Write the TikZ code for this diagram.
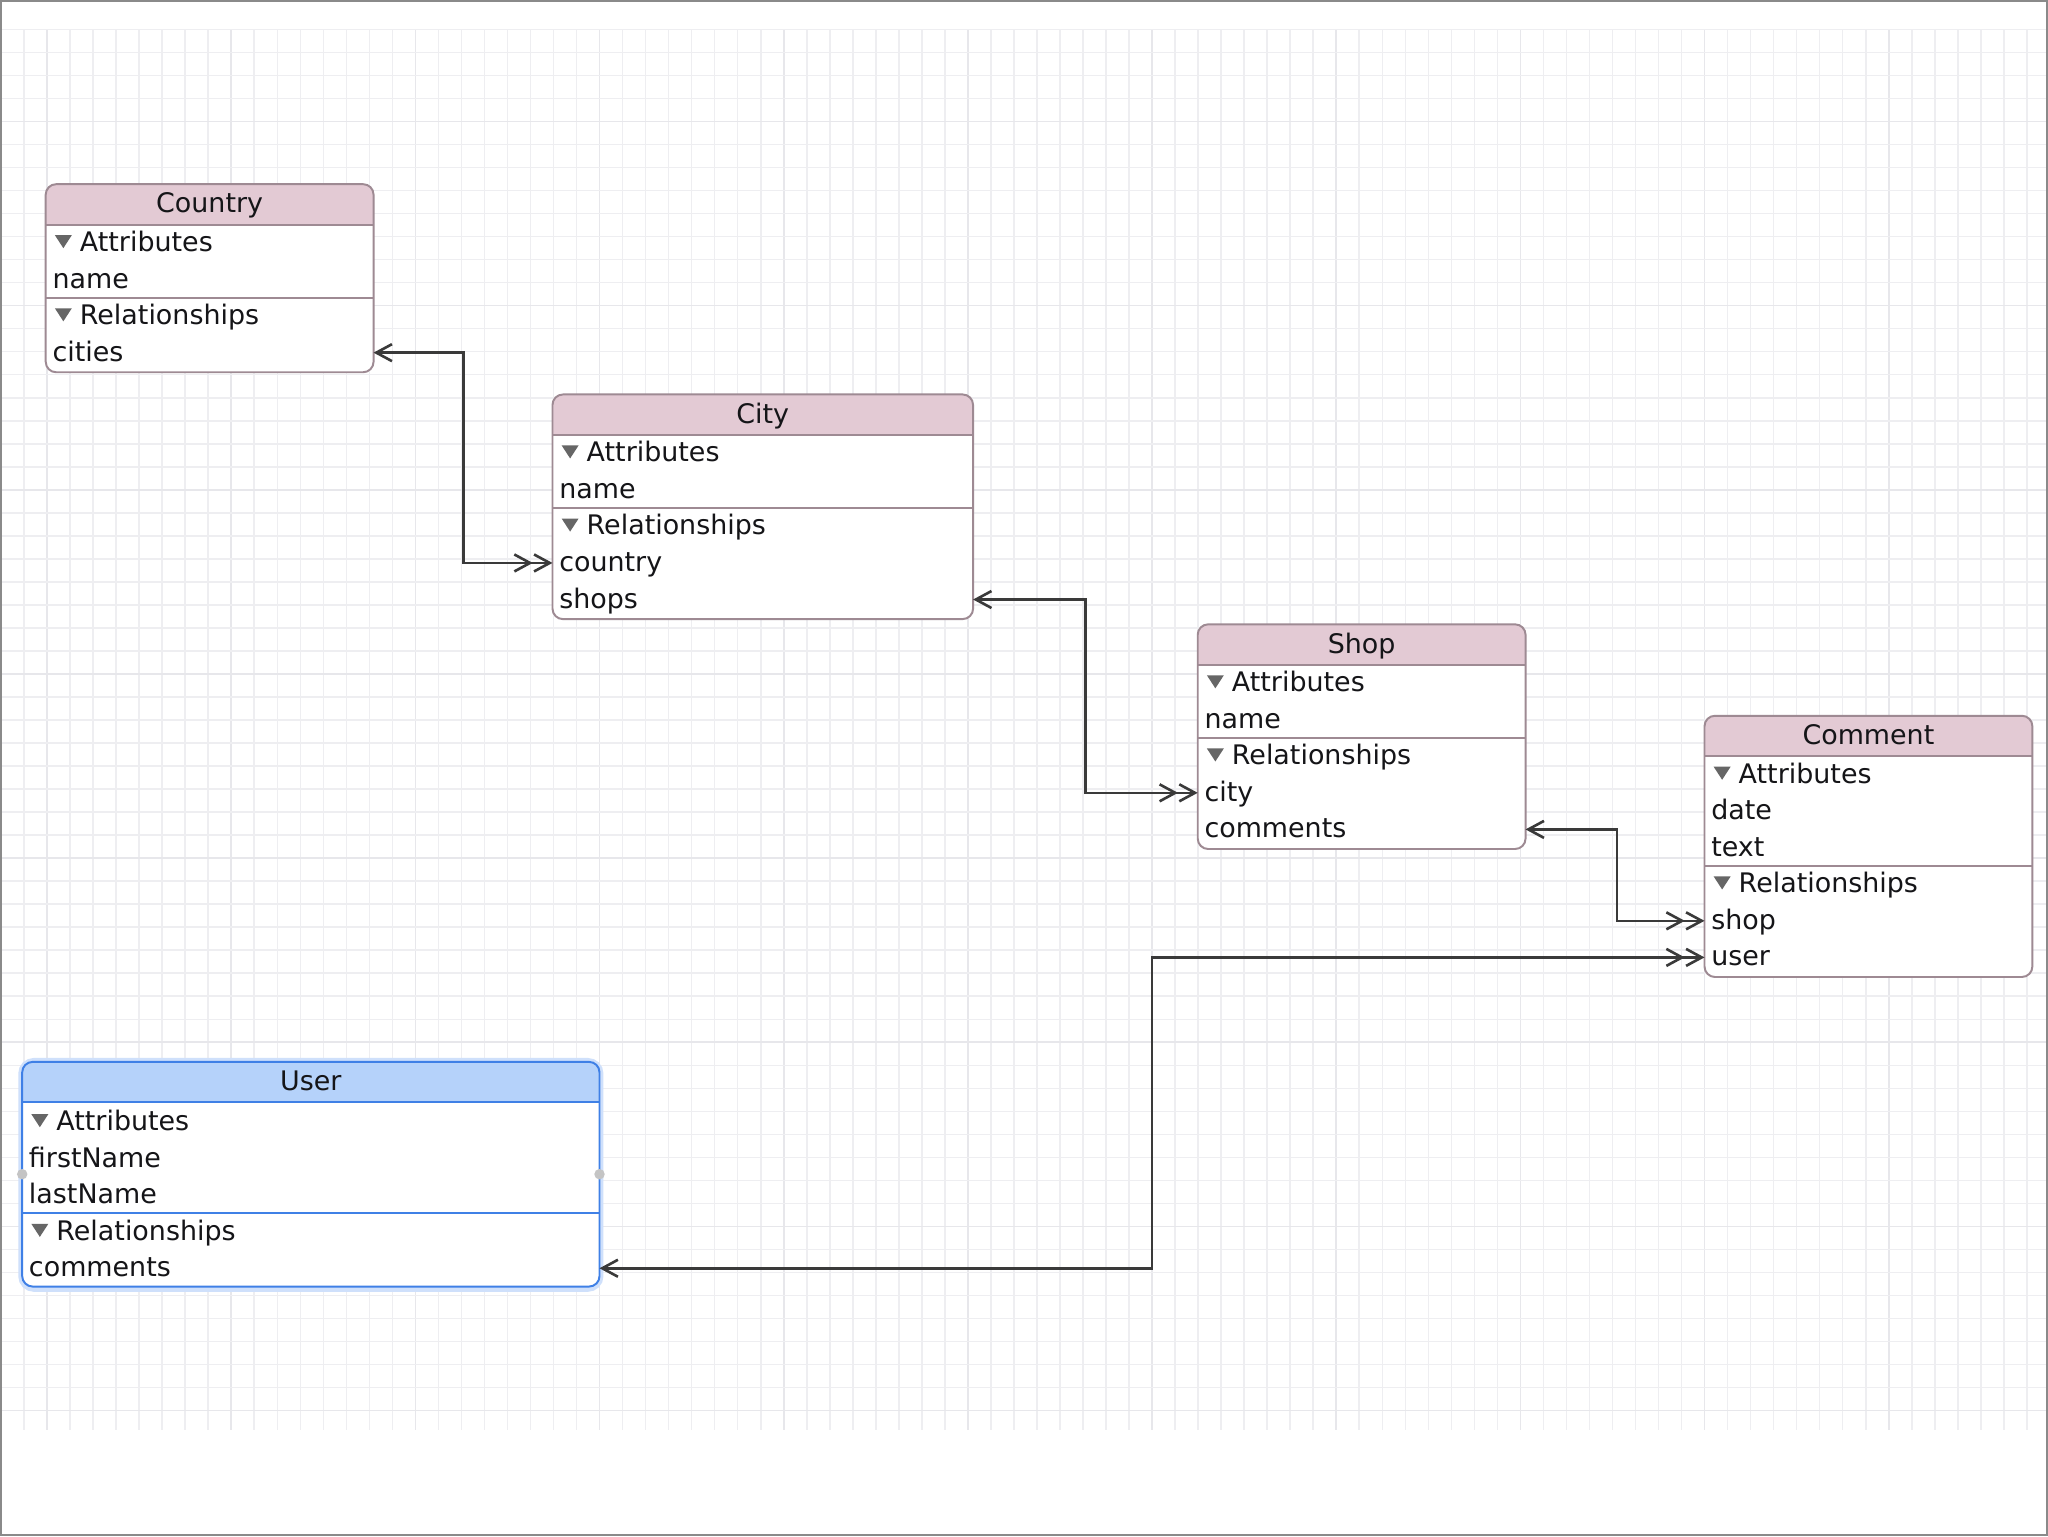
\documentclass[tikz,border=0pt]{standalone}
\usepackage{fontspec}
\setmainfont{DejaVu Sans}
\usetikzlibrary{arrows.meta}
\definecolor{gridminor}{HTML}{EEEEF1}
\definecolor{gridmajor}{HTML}{E7E7EB}
\definecolor{pinkhdr}{HTML}{E3CAD4}
\definecolor{pinkline}{HTML}{9E8A93}
\definecolor{bluehdr}{HTML}{B5D2FA}
\definecolor{blueline}{HTML}{3F80E6}
\definecolor{blueglow}{HTML}{CFE0FB}
\definecolor{txt}{HTML}{151518}
\definecolor{tricol}{HTML}{666666}
\definecolor{conn}{HTML}{3A3A3A}
\definecolor{framecol}{HTML}{8A8A8A}
\definecolor{handle}{HTML}{C4C4C4}

\tikzset{
  rowtext/.style={anchor=west, inner sep=0pt, text height=16pt, text depth=3pt,
    font=\fontsize{20.6}{24}\selectfont, text=txt},
  titletext/.style={inner sep=0pt, text height=16pt, text depth=3pt,
    font=\fontsize{20.6}{24}\selectfont, text=txt},
  boxbase/.style={rectangle, rounded corners=8pt, fill=white, inner sep=0pt, outer sep=0pt},
  relline/.style={draw=conn, line width=2pt},
  relarrow/.style={relline, {Straight Barb[length=12pt,width=13pt]}-{Straight Barb[length=12pt,width=13pt] Straight Barb[length=12pt,width=13pt]}},
  disclosure/.style={fill=tricol}
}

% section row with disclosure triangle: #1 name, #2 x (box left), #3 y, #4 text
\newcommand\erowt[4]{%
  \fill[disclosure] (#2+7,#3-6) -- (#2+20,#3-6) -- (#2+13.5,#3+4) -- cycle;
  \node[rowtext] (#1) at (#2+26,#3) {#4};}
% plain row: #1 name, #2 x (box left), #3 y, #4 text
\newcommand\erow[4]{\node[rowtext] (#1) at (#2+5,#3) {#4};}
\newcommand\entity[8]{%
  \pgfmathsetmacro\ehb{#3+31}%
  \pgfmathsetmacro\ebt{\ehb+28*#5+1}%
  \pgfmathsetmacro\eh{\ebt-#3}%
  \node[boxbase, minimum width=#4pt, minimum height=\eh pt, anchor=north west] (#1) at (#2,#3) {};%
  \begin{scope}
    \clip (#2,#3) rectangle (#2+#4,\ehb);
    \fill[#7, rounded corners=8pt] (#2,#3) rectangle (#2+#4,\ehb+20);
  \end{scope}
  \draw[#8, line width=1.5pt] (#2,\ehb) -- (#2+#4,\ehb);
  \node[titletext] (#1-title) at (#2+#4/2,#3+15.5) {#6};
}
\newcommand\esep[5]{\draw[#5, line width=1.5pt] (#2,#3) -- (#2+#4,#3);}
\newcommand\eborder[2]{\draw[#2, line width=1.5pt, rounded corners=8pt] (#1.north west) rectangle (#1.south east);}

\begin{document}
\begin{tikzpicture}[x=1pt,y=-1pt]
\useasboundingbox (0,0) rectangle (1568,1176);
\fill[white] (0,0) rectangle (1568,1176);

% grid
\foreach \k in {0,...,88} {
  \pgfmathsetmacro\gx{0.8+17.625*\k}
  \pgfmathtruncatemacro\gm{mod(\k,8)}
  \ifnum\gm=2
    \draw[gridmajor, line width=1.3pt] (\gx,22.5) -- (\gx,1095);
  \else
    \draw[gridminor, line width=1.2pt] (\gx,22.5) -- (\gx,1095);
  \fi
}
\foreach \k in {0,...,60} {
  \pgfmathsetmacro\gy{22.5+17.625*\k}
  \pgfmathtruncatemacro\gm{mod(\k,8)}
  \ifnum\gm=4
    \draw[gridmajor, line width=1.3pt] (0,\gy) -- (1568,\gy);
  \else
    \draw[gridminor, line width=1.2pt] (0,\gy) -- (1568,\gy);
  \fi
}

% Country
\entity{country}{35}{141}{251}{4}{Country}{pinkhdr}{pinkline}
\erowt{country-attr}{35}{186}{Attributes}
\erow{country-name}{35}{214}{name}
\esep{country}{35}{228}{251}{pinkline}
\erowt{country-rel}{35}{242}{Relationships}
\erow{country-cities}{35}{270}{cities}
\eborder{country}{pinkline}

% City
\entity{city}{423}{302}{322}{5}{City}{pinkhdr}{pinkline}
\erowt{city-attr}{423}{347}{Attributes}
\erow{city-name}{423}{375}{name}
\esep{city}{423}{389}{322}{pinkline}
\erowt{city-rel}{423}{403}{Relationships}
\erow{city-country}{423}{431}{country}
\erow{city-shops}{423}{459}{shops}
\eborder{city}{pinkline}

% Shop
\entity{shop}{917}{478}{251}{5}{Shop}{pinkhdr}{pinkline}
\erowt{shop-attr}{917}{523}{Attributes}
\erow{shop-name}{917}{551}{name}
\esep{shop}{917}{565}{251}{pinkline}
\erowt{shop-rel}{917}{579}{Relationships}
\erow{shop-city}{917}{607}{city}
\erow{shop-comments}{917}{635}{comments}
\eborder{shop}{pinkline}

% Comment
\entity{comment}{1305}{548}{251}{6}{Comment}{pinkhdr}{pinkline}
\erowt{comment-attr}{1305}{593}{Attributes}
\erow{comment-date}{1305}{621}{date}
\erow{comment-text}{1305}{649}{text}
\esep{comment}{1305}{663}{251}{pinkline}
\erowt{comment-rel}{1305}{677}{Relationships}
\erow{comment-shop}{1305}{705}{shop}
\erow{comment-user}{1305}{733}{user}
\eborder{comment}{pinkline}

% User (selected)
\draw[blueglow, line width=6pt, rounded corners=9pt] (17,813) rectangle (459,986);
\entity{user}{17}{813}{442}{5}{User}{bluehdr}{blueline}
\erowt{user-attr}{17}{859}{Attributes}
\erow{user-first}{17}{887}{firstName}
\erow{user-last}{17}{915}{lastName}
\esep{user}{17}{929}{442}{blueline}
\erowt{user-rel}{17}{943}{Relationships}
\erow{user-comments}{17}{971}{comments}
\eborder{user}{blueline}
\fill[handle] (user.west) circle (4);
\fill[handle] (user.east) circle (4);

% relationships
\draw[relarrow] (country.east |- country-cities) -- ++(69,0) |- (city.west |- city-country);
\draw[relarrow] (city.east |- city-shops) -- ++(86,0) |- (shop.west |- shop-city);
\draw[relarrow] (shop.east |- shop-comments) -- ++(70,0) |- (comment.west |- comment-shop);
\draw[relarrow] (user.east |- user-comments) -- ++(423,0) |- (comment.west |- comment-user);

% frame
\draw[framecol, line width=1.5pt] (0.75,0.75) rectangle (1567.25,1175.25);
\end{tikzpicture}
\end{document}
